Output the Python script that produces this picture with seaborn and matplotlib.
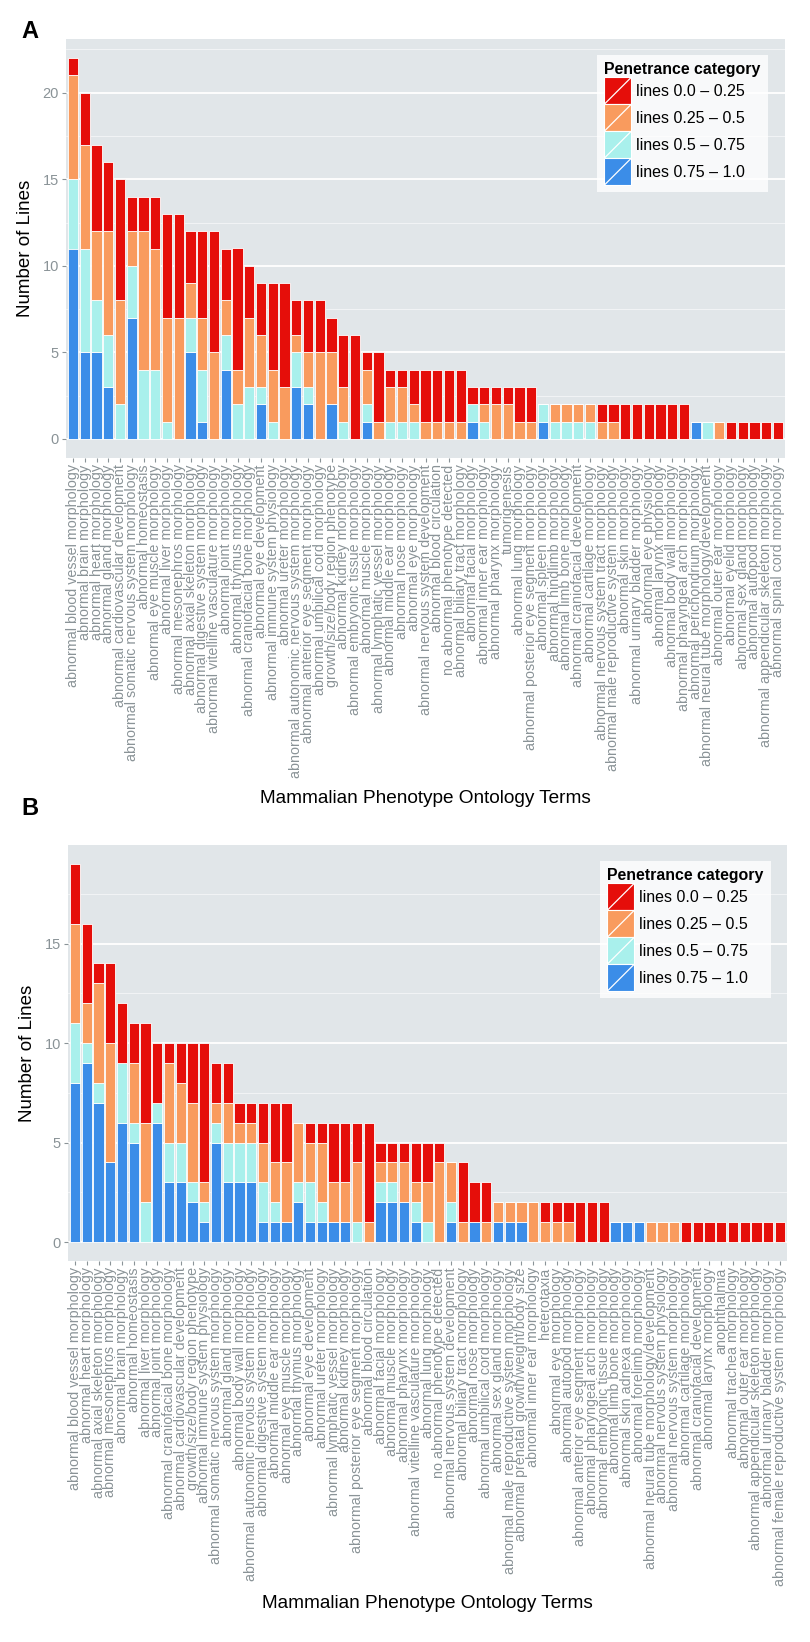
import numpy as np
import matplotlib
matplotlib.use("Agg")
import matplotlib.pyplot as plt
import seaborn as sns
from matplotlib.patches import Patch, Rectangle
from matplotlib.lines import Line2D
from matplotlib.legend_handler import HandlerBase
from matplotlib.ticker import MultipleLocator

# ---------------- data ----------------
categories = ["lines 0.0 \u2013 0.25", "lines 0.25 \u2013 0.5",
              "lines 0.5 \u2013 0.75", "lines 0.75 \u2013 1.0"]

terms_a = [
    "abnormal blood vessel morphology", "abnormal brain morphology",
    "abnormal heart morphology", "abnormal gland morphology",
    "abnormal cardiovascular development", "abnormal somatic nervous system morphology",
    "abnormal homeostasis", "abnormal eye muscle morphology",
    "abnormal liver morphology", "abnormal mesonephros morphology",
    "abnormal axial skeleton morphology", "abnormal digestive system morphology",
    "abnormal vitelline vasculature morphology", "abnormal joint morphology",
    "abnormal thymus morphology", "abnormal craniofacial bone morphology",
    "abnormal eye development", "abnormal immune system physiology",
    "abnormal ureter morphology", "abnormal autonomic nervous system morphology",
    "abnormal anterior eye segment morphology", "abnormal umbilical cord morphology",
    "growth/size/body region phenotype", "abnormal kidney morphology",
    "abnormal embryonic tissue morphology", "abnormal muscle morphology",
    "abnormal lymphatic vessel morphology", "abnormal middle ear morphology",
    "abnormal nose morphology", "abnormal eye morphology",
    "abnormal nervous system development", "abnormal blood circulation",
    "no abnormal phenotype detected", "abnormal biliary tract morphology",
    "abnormal facial morphology", "abnormal inner ear morphology",
    "abnormal pharynx morphology", "tumorigenesis",
    "abnormal lung morphology", "abnormal posterior eye segment morphology",
    "abnormal spleen morphology", "abnormal hindlimb morphology",
    "abnormal limb bone morphology", "abnormal craniofacial development",
    "abnormal cartilage morphology", "abnormal nervous system tract morphology",
    "abnormal male reproductive system morphology", "abnormal skin morphology",
    "abnormal urinary bladder morphology", "abnormal eye physiology",
    "abnormal larynx morphology", "abnormal body wall morphology",
    "abnormal pharyngeal arch morphology", "abnormal perichondrium morphology",
    "abnormal neural tube morphology/development", "abnormal outer ear morphology",
    "abnormal eyelid morphology", "abnormal sex gland morphology",
    "abnormal autopod morphology", "abnormal appendicular skeleton morphology",
    "abnormal spinal cord morphology",
]
a_blue = [11, 5, 5, 3, 0, 7, 0, 0, 0, 0, 5, 1, 0, 4, 0, 0, 2, 0, 0, 3, 2, 0, 2, 0, 0, 1, 0, 0, 0, 0,
          0, 0, 0, 0, 1, 0, 0, 0, 0, 0, 1, 0, 0, 0, 0, 0, 0, 0, 0, 0, 0, 0, 0, 1, 0, 0, 0, 0, 0, 0, 0]
a_cyan = [4, 6, 3, 3, 2, 3, 4, 4, 1, 0, 2, 3, 0, 2, 2, 3, 1, 1, 0, 2, 1, 0, 0, 1, 0, 1, 0, 1, 1, 1,
          0, 0, 0, 0, 1, 1, 0, 0, 0, 0, 1, 1, 1, 1, 1, 0, 0, 0, 0, 0, 0, 0, 0, 0, 1, 0, 0, 0, 0, 0, 0]
a_orange = [6, 6, 4, 6, 6, 2, 8, 7, 6, 7, 2, 3, 5, 2, 2, 4, 3, 3, 3, 1, 2, 5, 3, 2, 0, 2, 1, 2, 2, 1,
            1, 1, 1, 1, 0, 1, 2, 2, 1, 1, 0, 1, 1, 1, 1, 1, 1, 0, 0, 0, 0, 0, 0, 0, 0, 1, 0, 0, 0, 0, 0]
a_red = [1, 3, 5, 4, 7, 2, 2, 3, 6, 6, 3, 5, 7, 3, 7, 3, 3, 5, 6, 2, 3, 3, 2, 3, 6, 1, 4, 1, 1, 2,
         3, 3, 3, 3, 1, 1, 1, 1, 2, 2, 0, 0, 0, 0, 0, 1, 1, 2, 2, 2, 2, 2, 2, 0, 0, 0, 1, 1, 1, 1, 1]

terms_b = [
    "abnormal blood vessel morphology", "abnormal heart morphology",
    "abnormal axial skeleton morphology", "abnormal mesonephros morphology",
    "abnormal brain morphology", "abnormal homeostasis",
    "abnormal liver morphology", "abnormal joint morphology",
    "abnormal craniofacial bone morphology", "abnormal cardiovascular development",
    "growth/size/body region phenotype", "abnormal immune system physiology",
    "abnormal somatic nervous system morphology", "abnormal gland morphology",
    "abnormal body wall morphology", "abnormal autonomic nervous system morphology",
    "abnormal digestive system morphology", "abnormal middle ear morphology",
    "abnormal eye muscle morphology", "abnormal thymus morphology",
    "abnormal eye development", "abnormal ureter morphology",
    "abnormal lymphatic vessel morphology", "abnormal kidney morphology",
    "abnormal posterior eye segment morphology", "abnormal blood circulation",
    "abnormal facial morphology", "abnormal muscle morphology",
    "abnormal pharynx morphology", "abnormal vitelline vasculature morphology",
    "abnormal lung morphology", "no abnormal phenotype detected",
    "abnormal nervous system development", "abnormal biliary tract morphology",
    "abnormal nose morphology", "abnormal umbilical cord morphology",
    "abnormal sex gland morphology", "abnormal male reproductive system morphology",
    "abnormal prenatal growth/weight/body size", "abnormal inner ear morphology",
    "heterotaxia", "abnormal eye morphology",
    "abnormal autopod morphology", "abnormal anterior eye segment morphology",
    "abnormal pharyngeal arch morphology", "abnormal embryonic tissue morphology",
    "abnormal limb bone morphology", "abnormal skin adnexa morphology",
    "abnormal forelimb morphology", "abnormal neural tube morphology/development",
    "abnormal nervous system physiology", "abnormal nervous system morphology",
    "abnormal cartilage morphology", "abnormal craniofacial development",
    "abnormal larynx morphology", "anophthalmia",
    "abnormal trachea morphology", "abnormal outer ear morphology",
    "abnormal appendicular skeleton morphology", "abnormal urinary bladder morphology",
    "abnormal female reproductive system morphology",
]
b_blue = [8, 9, 7, 4, 6, 5, 0, 6, 3, 3, 2, 1, 5, 3, 3, 3, 1, 1, 1, 2, 1, 1, 1, 1, 0, 0, 2, 2, 2, 1,
          0, 0, 1, 0, 1, 0, 1, 1, 1, 0, 0, 0, 0, 0, 0, 0, 1, 1, 1, 0, 0, 0, 0, 0, 0, 0, 0, 0, 0, 0, 0]
b_cyan = [3, 1, 1, 0, 3, 1, 2, 1, 2, 2, 1, 1, 1, 2, 2, 2, 2, 1, 0, 1, 2, 1, 0, 0, 1, 0, 1, 1, 0, 1,
          1, 0, 1, 0, 0, 0, 0, 0, 0, 0, 0, 0, 0, 0, 0, 0, 0, 0, 0, 0, 0, 0, 0, 0, 0, 0, 0, 0, 0, 0, 0]
b_orange = [5, 2, 5, 6, 0, 3, 4, 0, 4, 3, 4, 1, 1, 2, 1, 1, 2, 2, 3, 3, 2, 3, 2, 2, 3, 1, 1, 1, 2, 1,
            2, 4, 2, 1, 0, 1, 1, 1, 1, 2, 1, 1, 1, 0, 0, 0, 0, 0, 0, 1, 1, 1, 0, 0, 0, 0, 0, 0, 0, 0, 0]
b_red = [3, 4, 1, 4, 3, 2, 5, 3, 1, 2, 3, 7, 2, 2, 1, 1, 2, 3, 3, 0, 1, 1, 3, 3, 2, 5, 1, 1, 1, 2,
         2, 1, 0, 3, 2, 2, 0, 0, 0, 0, 1, 1, 1, 2, 2, 2, 0, 0, 0, 0, 0, 0, 1, 1, 1, 1, 1, 1, 1, 1, 1]

# ---------------- style ----------------
RED, ORANGE, CYAN, BLUE = "#E50E0A", "#F99B5E", "#A9F0EC", "#3B8DE8"
colors = [RED, ORANGE, CYAN, BLUE]
PANEL_BG = "#E1E6E9"
TICK_GRAY = "#8A9397"

plt.rcParams["font.family"] = ["Liberation Sans", "DejaVu Sans"]


class DiagHandler(HandlerBase):
    def create_artists(self, legend, orig_handle, xdescent, ydescent,
                       width, height, fontsize, trans):
        r = Rectangle((-xdescent, -ydescent), width, height,
                      facecolor=orig_handle.get_facecolor(), edgecolor="white",
                      linewidth=0.8, transform=trans)
        ln = Line2D([-xdescent, -xdescent + width], [-ydescent, -ydescent + height],
                    color="white", linewidth=0.9, transform=trans)
        return [r, ln]


def draw_panel(ax, terms, blue, cyan, orange, red, ymax, yticks):
    ax.set_facecolor(PANEL_BG)
    bottom = np.zeros(len(terms))
    for vals, col in [(blue, BLUE), (cyan, CYAN), (orange, ORANGE), (red, RED)]:
        sns.barplot(x=terms, y=vals, order=terms, bottom=bottom, color=col,
                    saturation=1, width=0.86, edgecolor="white", linewidth=0.6,
                    errorbar=None, ax=ax, zorder=3)
        bottom = bottom + np.array(vals)
    n = len(terms)
    ax.set_xlim(-0.6, n - 0.4)
    exp = ymax * 0.05
    ax.set_ylim(-exp, ymax + exp)
    ax.set_yticks(yticks)
    ax.yaxis.set_minor_locator(MultipleLocator(2.5))
    ax.set_axisbelow(True)
    ax.grid(False)
    ax.grid(which="major", axis="y", color="white", linewidth=1.3, zorder=0)
    ax.grid(which="minor", axis="y", color="white", linewidth=0.5, alpha=0.8, zorder=0)
    for s in ax.spines.values():
        s.set_visible(False)
    ax.tick_params(axis="y", which="major", colors=TICK_GRAY, labelsize=10.5,
                   length=3, width=0.8, pad=2)
    ax.tick_params(axis="y", which="minor", length=0)
    ax.tick_params(axis="x", colors=TICK_GRAY, labelsize=10.3, length=3,
                   width=0.8, pad=1.5)
    ax.set_xticks(range(n))
    ax.set_xticklabels(terms, rotation=90, ha="center", va="top")
    ax.set_xlabel("Mammalian Phenotype Ontology Terms", fontsize=13.7, color="black")
    ax.set_ylabel("Number of Lines", fontsize=13.5, color="black")
    handles = [Patch(facecolor=c, label=l) for c, l in zip(colors, categories)]
    leg = ax.legend(handles=handles, title="Penetrance category",
                    handler_map={Patch: DiagHandler()},
                    loc="upper right", frameon=True, fancybox=False,
                    fontsize=11.5, title_fontproperties={"weight": "bold", "size": 11.4},
                    handlelength=1.69, handleheight=2.22, labelspacing=0.0,
                    handletextpad=0.3, borderpad=0.45, borderaxespad=0.0,
                    alignment="left")
    leg.get_frame().set_facecolor("white")
    leg.get_frame().set_edgecolor("white")
    leg.get_frame().set_linewidth(0)
    return leg


fig = plt.figure(figsize=(8.1, 16.42), dpi=100)

axA = fig.add_axes([66 / 810, 1 - 458 / 1642, 719 / 810, 419 / 1642])
legA = draw_panel(axA, terms_a, a_blue, a_cyan, a_orange, a_red, 22, [0, 5, 10, 15, 20])
legA.set_bbox_to_anchor((0.9763, 0.9618), transform=axA.transAxes)
axA.xaxis.set_label_coords(0.5, -0.792)
axA.yaxis.set_label_coords(-0.0445, 0.5)

axB = fig.add_axes([68 / 810, 1 - 1261 / 1642, 719 / 810, 416 / 1642])
legB = draw_panel(axB, terms_b, b_blue, b_cyan, b_orange, b_red, 19, [0, 5, 10, 15])
legB.set_bbox_to_anchor((0.9777, 0.9615), transform=axB.transAxes)
axB.xaxis.set_label_coords(0.5, -0.804)
axB.yaxis.set_label_coords(-0.0445, 0.5)

fig.text(30 / 810, 1 - 31 / 1642, "A", fontsize=17, fontweight="bold", ha="center", va="center")
fig.text(30 / 810, 1 - 808 / 1642, "B", fontsize=17, fontweight="bold", ha="center", va="center")

fig.savefig("out.png", dpi=100, facecolor="white")
